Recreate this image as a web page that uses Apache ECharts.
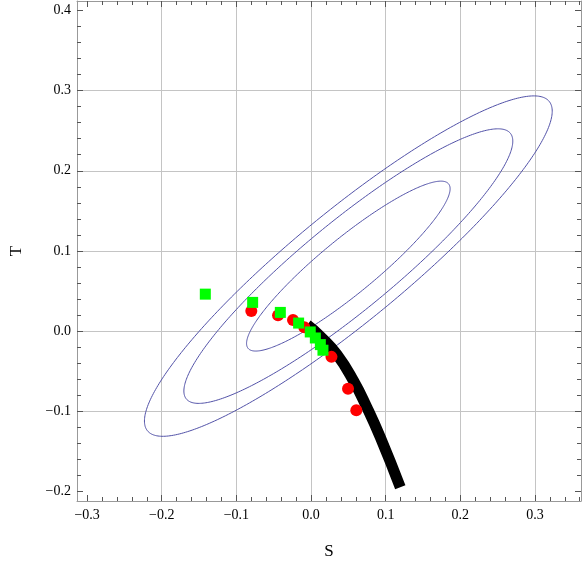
<!DOCTYPE html>
<html><head><meta charset="utf-8">
<script src="https://cdn.jsdelivr.net/npm/echarts@6/dist/echarts.min.js"></script>
<style>html,body{margin:0;padding:0;background:#fff}#c{width:582px;height:565px}</style>
</head><body><div id="c"></div>
<script>
// ---- data ----
const xTickValues = [-0.3, -0.2, -0.1, 0, 0.1, 0.2, 0.3];
const yTickValues = [-0.2, -0.1, 0, 0.1, 0.2, 0.3, 0.4];
const xGridValues = [-0.2, -0.1, 0, 0.1, 0.2, 0.3];
const yGridValues = [-0.1, 0, 0.1, 0.2, 0.3];
const xMinorTicks = [-0.30,-0.28,-0.26,-0.24,-0.22,-0.20,-0.18,-0.16,-0.14,-0.12,-0.10,-0.08,-0.06,-0.04,-0.02,0,
  0.02,0.04,0.06,0.08,0.10,0.12,0.14,0.16,0.18,0.20,0.22,0.24,0.26,0.28,0.30,0.32,0.34,0.36];
const yMinorTicks = [-0.20,-0.18,-0.16,-0.14,-0.12,-0.10,-0.08,-0.06,-0.04,-0.02,0,
  0.02,0.04,0.06,0.08,0.10,0.12,0.14,0.16,0.18,0.20,0.22,0.24,0.26,0.28,0.30,0.32,0.34,0.36,0.38,0.40];

// confidence ellipses (center, widths, correlation, contour scale factors)
const ellipseCenter = [0.05, 0.081];
const ellipseSigma = [0.09, 0.07];
const ellipseRho = 0.91;
const contourScales = [1.515, 2.448, 3.035];

// thick black curve
const curveS = [-0.005, 0.0125, 0.0348, 0.0571, 0.075, 0.0929, 0.1196];
const curveT = [0.0075, -0.0066, -0.0294, -0.0625, -0.0957, -0.1329, -0.195];

// red circles
const redS = [-0.0800, -0.0442, -0.0241, -0.0090, 0.0274, 0.0496, 0.0607];
const redT = [0.0250, 0.0195, 0.0137, 0.0046, -0.0323, -0.0720, -0.0990];

// green squares
const greenS = [-0.1416, -0.0782, -0.0411, -0.0166, -0.0010, 0.0058, 0.0125, 0.0160];
const greenT = [0.0460, 0.0357, 0.0232, 0.0099, -0.0012, -0.0087, -0.0170, -0.0240];

const X_MIN = -0.3135, X_MAX = 0.3617, Y_MIN = -0.2122, Y_MAX = 0.4119;

const FONT = '"Liberation Serif", "Times New Roman", serif';
const frameColor = '#999999';
const tickColor = '#555555';
const fmt = v => (v < 0 ? '\u2212' : '') + Math.abs(v).toFixed(1);

function merge(base, extra) {
  const out = Object.assign({}, base);
  for (const k in extra) {
    if (extra[k] && typeof extra[k] === 'object' && !Array.isArray(extra[k]) && base[k] && typeof base[k] === 'object') {
      out[k] = Object.assign({}, base[k], extra[k]);
    } else out[k] = extra[k];
  }
  return out;
}
function xAx(extra) {
  return merge({type: 'value', min: X_MIN, max: X_MAX, position: 'bottom',
    axisLine: {show: false, onZero: false}, axisTick: {show: false}, axisLabel: {show: false}, splitLine: {show: false}}, extra);
}
function yAx(extra) {
  return merge({type: 'value', min: Y_MIN, max: Y_MAX, position: 'left',
    axisLine: {show: false, onZero: false}, axisTick: {show: false}, axisLabel: {show: false}, splitLine: {show: false}}, extra);
}

const option = {
  animation: false,
  backgroundColor: '#fff',
  grid: {left: 77, right: 1, top: 1, bottom: 61, containLabel: false},
  xAxis: [
    xAx({position: 'bottom',
      axisLine: {show: true, lineStyle: {color: frameColor, width: 1}},
      axisTick: {show: true, inside: true, length: 6, customValues: xTickValues, lineStyle: {color: tickColor}},
      axisLabel: {show: true, customValues: xTickValues, formatter: fmt, margin: 7,
        fontFamily: FONT, fontSize: 14, color: '#000'},
      name: 'S', nameLocation: 'middle', nameGap: 42,
      nameTextStyle: {fontFamily: FONT, fontSize: 17, color: '#000'}}),
    xAx({position: 'bottom',
      axisTick: {show: true, inside: true, length: 4, customValues: xMinorTicks, lineStyle: {color: tickColor}}}),
    xAx({position: 'bottom',
      axisTick: {show: false, customValues: xGridValues},
      splitLine: {show: true, lineStyle: {color: '#c4c4c4', width: 1}}}),
    xAx({position: 'top',
      axisLine: {show: true, lineStyle: {color: frameColor, width: 1}},
      axisTick: {show: true, inside: true, length: 6, customValues: xTickValues, lineStyle: {color: tickColor}}}),
    xAx({position: 'top',
      axisTick: {show: true, inside: true, length: 4, customValues: xMinorTicks, lineStyle: {color: tickColor}}})
  ],
  yAxis: [
    yAx({position: 'left',
      axisLine: {show: true, lineStyle: {color: frameColor, width: 1}},
      axisTick: {show: true, inside: true, length: 6, customValues: yTickValues, lineStyle: {color: tickColor}},
      axisLabel: {show: true, customValues: yTickValues, formatter: fmt, margin: 6,
        fontFamily: FONT, fontSize: 14, color: '#000'},
      name: 'T', nameLocation: 'middle', nameGap: 52, nameRotate: 90,
      nameTextStyle: {fontFamily: FONT, fontSize: 17, color: '#000'}}),
    yAx({position: 'left',
      axisTick: {show: true, inside: true, length: 4, customValues: yMinorTicks, lineStyle: {color: tickColor}}}),
    yAx({position: 'left',
      axisTick: {show: false, customValues: yGridValues},
      splitLine: {show: true, lineStyle: {color: '#c4c4c4', width: 1}}}),
    yAx({position: 'right',
      axisLine: {show: true, lineStyle: {color: frameColor, width: 1}},
      axisTick: {show: true, inside: true, length: 6, customValues: yTickValues, lineStyle: {color: tickColor}}}),
    yAx({position: 'right',
      axisTick: {show: true, inside: true, length: 4, customValues: yMinorTicks, lineStyle: {color: tickColor}}})
  ],
  series: [
    {
      type: 'custom', xAxisIndex: 0, yAxisIndex: 0, z: 1, silent: true,
      data: contourScales.map(k => [ellipseCenter[0], ellipseCenter[1], k]),
      encode: {x: 0, y: 1},
      renderItem: function (params, api) {
        const cS = api.value(0), cT = api.value(1), k = api.value(2);
        const sS = ellipseSigma[0], sT = ellipseSigma[1], r = ellipseRho;
        const q = Math.sqrt(1 - r * r);
        const pts = [];
        for (let i = 0; i <= 360; i++) {
          const t = i / 360 * 2 * Math.PI;
          pts.push(api.coord([cS + k * sS * Math.cos(t), cT + k * sT * (r * Math.cos(t) + q * Math.sin(t))]));
        }
        return {type: 'polyline', shape: {points: pts},
          style: {fill: null, stroke: '#5252a8', lineWidth: 1}};
      }
    },
    {
      type: 'line', xAxisIndex: 0, yAxisIndex: 0, z: 2, silent: true,
      data: curveS.map((s, i) => [s, curveT[i]]),
      smooth: true, showSymbol: false, symbol: 'none',
      lineStyle: {color: '#000', width: 11, cap: 'butt', join: 'round'}
    },
    {
      type: 'scatter', xAxisIndex: 0, yAxisIndex: 0, z: 3, silent: true,
      data: redS.map((s, i) => [s, redT[i]]),
      symbol: 'circle', symbolSize: 12,
      itemStyle: {color: '#ff0000', opacity: 1}
    },
    {
      type: 'scatter', xAxisIndex: 0, yAxisIndex: 0, z: 4, silent: true,
      data: greenS.map((s, i) => [s, greenT[i]]),
      symbol: 'rect', symbolSize: 11,
      itemStyle: {color: '#00ff00', opacity: 1}
    }
  ]
};
const chart = echarts.init(document.getElementById('c'), null, {renderer: 'canvas'});
chart.setOption(option);
</script>
</body></html>
